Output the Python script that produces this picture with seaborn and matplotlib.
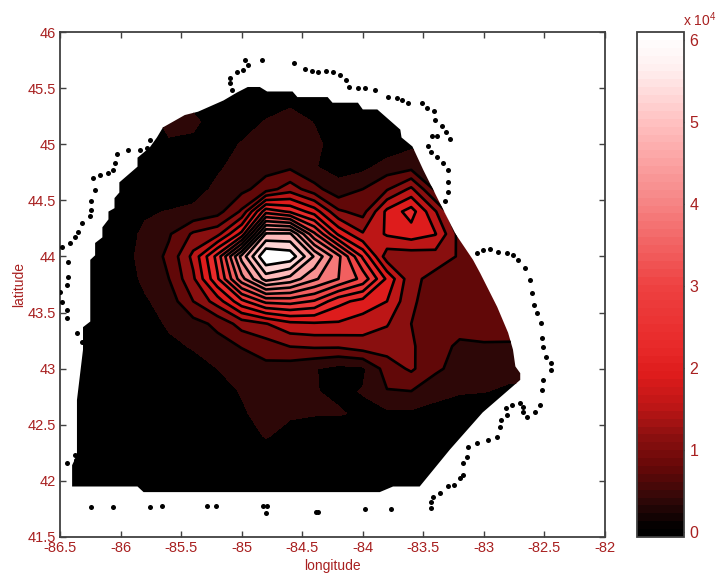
import numpy as np
import pandas as pd
import matplotlib
matplotlib.use("Agg")
import matplotlib.pyplot as plt
from matplotlib.cm import ScalarMappable
from matplotlib.colors import LinearSegmentedColormap, Normalize
from matplotlib.patches import Polygon
import seaborn as sns

# grid of the field, units of 1e4, rows run north to south
grid_lon = [-86.4, -86.2, -86.0, -85.8, -85.6, -85.4, -85.2, -85.0, -84.8, -84.6,
            -84.4, -84.2, -84.0, -83.8, -83.6, -83.4, -83.2, -83.0, -82.8, -82.6]
grid_lat = [45.6, 45.4, 45.2, 45.0, 44.8, 44.6, 44.4, 44.2, 44.0, 43.8,
            43.6, 43.4, 43.2, 43.0, 42.8, 42.6, 42.4, 42.2, 42.0, 41.8]
field = [
    [0, 0, 0, 0, 0, 0, 0, 0, 0, 0, 0, 0, 0, 0, 0, 0, 0, 0, 0, 0],
    [0, 0, 0, 0, .2, .2, 0, 0, .05, .25, .05, 0, 0, 0, 0, 0, 0, 0, 0, 0],
    [0, 0, .02, .1, .55, .5, .1, .1, .42, .58, .36, .05, 0, 0, 0, 0, 0, 0, 0, 0],
    [0, 0, 0, .05, .3, .25, .12, .42, .58, .64, .5, .15, .05, .1, .3, .4, .4, .4, .4, .4],
    [0, 0, 0, .02, .08, .1, .33, .5, .62, .68, .4, .25, .26, .55, .62, .45, .4, .4, .4, .4],
    [0, 0, 0, .02, .1, .25, .45, .65, .95, 1.35, .9, .5, .76, 1.1, 1.6, .68, .45, .45, .45, .45],
    [0, 0, .05, .33, .4, .45, .62, 1.2, 2.9, 2.6, 2.1, 1.2, 1.0, 2.0, 2.45, 1.55, .62, .6, .6, .6],
    [0, 0, .2, .45, .72, 1.2, 1.4, 2.4, 5.0, 5.0, 3.5, 2.2, 1.56, 1.95, 2.1, 1.92, 1.0, .9, .9, .9],
    [0, .05, .22, .5, .85, 1.63, 2.8, 4.7, 6.08, 5.95, 4.9, 3.9, 2.6, 1.3, 1.3, 1.35, 1.1, .95, .95, .95],
    [0, .02, .15, .46, .76, 1.45, 2.6, 4.05, 5.1, 4.8, 4.25, 3.8, 3.3, 2.2, 1.25, 1.0, .95, .9, .9, .9],
    [0, .02, .1, .33, .55, 1.14, 1.7, 2.55, 3.15, 3.2, 3.0, 2.4, 2.15, 1.9, 1.2, .95, .9, .85, .82, .82],
    [0, 0, .05, .15, .45, .62, .85, 1.3, 1.5, 1.8, 1.85, 1.85, 1.7, 1.55, 1.14, .95, .85, .85, .8, .8],
    [0, 0, .02, .08, .27, .42, .62, .78, .95, 1.15, 1.2, 1.2, 1.35, 1.3, 1.2, .85, .72, .74, .75, .75],
    [0, 0, 0, .02, .08, .2, .38, .55, .65, .55, .4, .25, .3, .95, 1.2, .84, .6, .55, .55, .55],
    [0, 0, 0, 0, .02, .05, .15, .42, .55, .5, .4, .3, .4, .74, .76, .5, .42, .4, .3, .3],
    [0, 0, 0, 0, 0, .02, .05, .3, .6, .45, .42, .42, .3, .3, .3, .25, .15, .05, 0, 0],
    [0, 0, 0, 0, 0, 0, .02, .1, .42, .2, .05, .05, .03, .03, .02, .02, 0, 0, 0, 0],
    [0, 0, 0, 0, 0, 0, 0, 0, 0, 0, 0, 0, 0, 0, 0, 0, 0, 0, 0, 0],
    [0, 0, 0, 0, 0, 0, 0, 0, 0, 0, 0, 0, 0, 0, 0, 0, 0, 0, 0, 0],
    [0, 0, 0, 0, 0, 0, 0, 0, 0, 0, 0, 0, 0, 0, 0, 0, 0, 0, 0, 0],
]
levels = [0, .38, .76, 1.14, 1.52, 1.9, 2.28, 2.66, 3.04, 3.42, 3.8, 4.18, 4.56,
          4.94, 5.32, 5.7, 6.2]

# outline of the surveyed area
domain_lon = [-84.95, -84.85, -84.79, -84.58, -84.54, -84.29, -84.25, -84.04, -84.00, -83.88,
              -83.69, -83.68, -83.59, -83.50, -83.24, -83.09, -83.03, -82.89, -82.80, -82.76,
              -82.74, -82.70, -82.70, -83.01, -83.28, -83.53, -83.75, -83.86, -85.81, -85.86,
              -86.40, -86.40, -86.36, -86.36, -86.31, -86.31, -86.25, -86.25, -86.21, -86.21,
              -86.15, -86.15, -86.10, -86.10, -86.05, -86.05, -86.01, -86.01, -85.86, -85.86,
              -85.76, -85.70, -85.65, -85.47, -85.36, -85.15, -85.04]
domain_lat = [45.51, 45.51, 45.47, 45.47, 45.42, 45.42, 45.37, 45.37, 45.31, 45.31,
              45.13, 45.06, 44.98, 44.77, 44.21, 43.97, 43.85, 43.55, 43.32, 43.17,
              43.02, 42.96, 42.90, 42.61, 42.28, 41.95, 41.95, 41.90, 41.90, 41.95,
              41.95, 42.14, 42.23, 42.72, 43.17, 43.37, 43.42, 43.97, 44.01, 44.12,
              44.17, 44.26, 44.33, 44.40, 44.43, 44.52, 44.57, 44.66, 44.80, 44.88,
              44.97, 45.06, 45.15, 45.26, 45.29, 45.39, 45.46]

# shoreline dots
coast_lon = [-86.50, -86.48, -86.44, -86.44, -86.36, -86.32, -86.43, -86.43, -86.44, -86.48,
             -86.42, -86.38, -86.35, -86.32, -86.25, -86.24, -86.24, -86.21, -86.23, -86.17,
             -86.10, -86.06, -86.05, -86.03, -85.94, -85.84, -85.76, -85.78,
             -85.10, -85.08, -85.10, -85.04, -84.99, -84.95, -84.97, -84.83, -84.57, -84.48,
             -84.42, -84.37, -84.30, -84.25, -84.19, -84.14, -84.11, -84.04, -83.98, -83.90,
             -83.79, -83.72, -83.68, -83.63, -83.51, -83.47, -83.41, -83.40, -83.35, -83.31,
             -83.28, -83.39, -83.43, -83.46, -83.44, -83.39, -83.34, -83.30, -83.30, -83.30,
             -83.32,
             -83.06, -83.01, -82.95, -82.88, -82.81, -82.76, -82.72, -82.66, -82.62, -82.60,
             -82.59, -82.56, -82.53, -82.52, -82.51, -82.49, -82.45, -82.45, -82.51, -82.52,
             -82.54, -82.58, -82.64, -82.68, -82.68, -82.70, -82.77, -82.82, -82.81, -82.86,
             -82.87, -82.89, -82.97, -83.06, -83.13, -83.14, -83.17, -83.17, -83.20, -83.25,
             -83.30, -83.36, -83.42, -83.44, -83.44,
             -83.77, -83.98, -84.37, -84.39, -84.79, -84.80, -84.82, -85.21, -85.29, -85.66,
             -85.76, -86.06, -86.24, -86.44, -86.38, -86.37]
coast_lat = [43.68, 43.59, 43.52, 43.45, 43.32, 43.24, 43.95, 43.82, 43.75, 44.08,
             44.12, 44.17, 44.22, 44.30, 44.36, 44.41, 44.49, 44.59, 44.70, 44.73,
             44.74, 44.77, 44.83, 44.91, 44.95, 44.95, 45.04, 44.97,
             45.55, 45.48, 45.59, 45.64, 45.66, 45.71, 45.75, 45.75, 45.72, 45.67,
             45.65, 45.64, 45.65, 45.64, 45.62, 45.57, 45.51, 45.50, 45.50, 45.48,
             45.42, 45.41, 45.39, 45.37, 45.37, 45.32, 45.30, 45.22, 45.16, 45.11,
             45.05, 45.07, 45.07, 44.98, 44.93, 44.89, 44.83, 44.77, 44.66, 44.57,
             44.49,
             44.03, 44.06, 44.07, 44.04, 44.03, 44.01, 43.97, 43.90, 43.79, 43.67,
             43.57, 43.50, 43.41, 43.27, 43.19, 43.10, 43.05, 42.99, 42.90, 42.81,
             42.68, 42.61, 42.57, 42.61, 42.66, 42.69, 42.68, 42.65, 42.59, 42.54,
             42.48, 42.39, 42.36, 42.34, 42.30, 42.21, 42.16, 42.05, 42.03, 41.96,
             41.95, 41.89, 41.86, 41.81, 41.76,
             41.75, 41.75, 41.72, 41.72, 41.78, 41.71, 41.78, 41.78, 41.78, 41.78,
             41.77, 41.77, 41.77, 42.16, 42.23, 42.19]

x_ticks = [-86.5, -86, -85.5, -85, -84.5, -84, -83.5, -83, -82.5, -82]
x_labels = ["-86.5", "-86", "-85.5", "-85", "-84.5", "-84", "-83.5", "-83", "-82.5", "-82"]
y_ticks = [41.5, 42, 42.5, 43, 43.5, 44, 44.5, 45, 45.5, 46]
y_labels = ["41.5", "42", "42.5", "43", "43.5", "44", "44.5", "45", "45.5", "46"]
cbar_ticks = [0, 1, 2, 3, 4, 5, 6]

# colour ramp: value in 1e4, then rgb
ramp_vals = [-.06, 0, .38, .76, 1.14, 1.52, 1.9, 2.28, 3, 4, 5, 5.7, 6.1]
ramp_rgb = [(0, 0, 0), (0, 0, 0), (52, 8, 8), (102, 8, 8), (140, 16, 16), (190, 22, 22),
            (222, 28, 28), (232, 42, 42), (238, 65, 65), (246, 130, 130), (255, 190, 190),
            (255, 240, 240), (255, 255, 255)]

label_col = "#a82020"
axis_col = "#404040"

sns.set_style("white")
plt.rcParams["font.family"] = ["Liberation Sans", "DejaVu Sans"]
plt.rcParams["mathtext.default"] = "regular"

ramp = LinearSegmentedColormap.from_list(
    "blackredwhite",
    [((v - ramp_vals[0]) / (ramp_vals[-1] - ramp_vals[0]), tuple(c / 255 for c in rgb))
     for v, rgb in zip(ramp_vals, ramp_rgb)],
    N=64)
norm = Normalize(ramp_vals[0], ramp_vals[-1])

fig = plt.figure(figsize=(7.16, 5.74), dpi=100)
ax = fig.add_axes([60 / 716, 37 / 574, 545 / 716, 505 / 574])
cax = fig.add_axes([637 / 716, 37 / 574, 47 / 716, 505 / 574])

# filled bands take the colour of their lower level, the top band is white
fills = [ramp(norm(v)) for v in levels[:-1]]
fills[-1] = (1, 1, 1, 1)
lon_mesh, lat_mesh = np.meshgrid(grid_lon, grid_lat)
values = np.array(field)
area = Polygon(np.column_stack([domain_lon, domain_lat]), closed=True,
               transform=ax.transData, facecolor="none", edgecolor="none")
ax.add_patch(area)
filled = ax.contourf(lon_mesh, lat_mesh, values, levels=levels, colors=fills)
filled.set_clip_path(area)
lines = ax.contour(lon_mesh, lat_mesh, values, levels=levels[2:-1], colors="black",
                   linewidths=1.9)
lines.set_clip_path(area)

coast = pd.DataFrame({"lon": coast_lon, "lat": coast_lat})
sns.scatterplot(data=coast, x="lon", y="lat", ax=ax, color="black", s=13, marker="o",
                linewidth=0, legend=False, zorder=5)

ax.set_xlim(-86.5, -82)
ax.set_ylim(41.5, 46)
ax.set_xticks(x_ticks)
ax.set_xticklabels(x_labels)
ax.set_yticks(y_ticks)
ax.set_yticklabels(y_labels)
ax.tick_params(direction="in", length=4, width=1, color=axis_col, labelcolor=label_col,
               labelsize=10.5, top=True, right=True, bottom=True, left=True, pad=3)
ax.set_xlabel("longitude", color=label_col, fontsize=10, labelpad=3)
ax.set_ylabel("latitude", color=label_col, fontsize=10, labelpad=1)
for s in ax.spines.values():
    s.set_visible(True)
    s.set_color(axis_col)
    s.set_linewidth(1.3)

bar = fig.colorbar(ScalarMappable(norm=norm, cmap=ramp), cax=cax)
bar.set_ticks(cbar_ticks)
cax.tick_params(direction="in", length=4, width=1, color="black", labelcolor=label_col,
                labelsize=11.5, left=True, right=True, pad=4)
bar.outline.set_edgecolor(axis_col)
bar.outline.set_linewidth(1.3)
fig.text(683 / 716, 554 / 574, "x 10$^{4}$", color=label_col, fontsize=10, ha="left", va="center")

fig.savefig("out.png", dpi=100)
